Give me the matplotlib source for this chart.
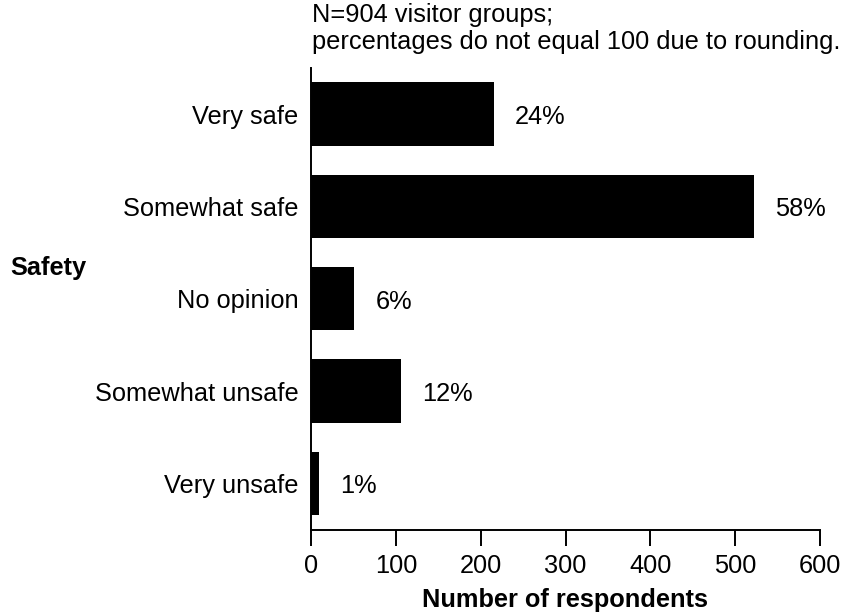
import matplotlib
matplotlib.use("Agg")
import matplotlib.pyplot as plt

categories = ["Very safe", "Somewhat safe", "No opinion", "Somewhat unsafe", "Very unsafe"]
counts = [216, 522, 51, 106, 9]
pct_labels = ["24%", "58%", "6%", "12%", "1%"]
x_ticks = [0, 100, 200, 300, 400, 500, 600]

plt.rcParams["font.family"] = ["Liberation Sans", "DejaVu Sans"]
FS = 18.3

fig = plt.figure(figsize=(8.42, 6.14), dpi=100)
ax = fig.add_axes([311 / 842, 1 - 529.5 / 614, (820 - 311) / 842, (529.5 - 68) / 614])

ypos = list(range(len(categories)))
ax.barh(ypos, counts, height=0.686, color="black")
ax.set_ylim(len(categories) - 0.5, -0.5)
ax.set_xlim(0, 600)

for y, c, lab in zip(ypos, counts, pct_labels):
    ax.annotate(lab, (c, y), xytext=(21, -3), textcoords="offset pixels",
                ha="left", va="center", fontsize=FS)

ax.set_yticks(ypos)
ax.set_yticklabels(categories, fontsize=FS)
ax.tick_params(axis="y", length=0, pad=9)
ax.set_xticks(x_ticks)
ax.set_xticklabels([str(t) for t in x_ticks], fontsize=FS)
ax.tick_params(axis="x", length=11.5, width=1.4, pad=6)

for s in ("top", "right"):
    ax.spines[s].set_visible(False)
for s in ("left", "bottom"):
    ax.spines[s].set_linewidth(1.4)

ax.set_xlabel("Number of respondents", fontsize=FS, fontweight="bold", labelpad=7)
fig.text(10 / 842, 1 - 268 / 614, "Safety", fontsize=FS, fontweight="bold", ha="left", va="center")
fig.text(312 / 842, 1 - 15 / 614, "N=904 visitor groups;", fontsize=FS, ha="left", va="center")
fig.text(312 / 842, 1 - 42 / 614, "percentages do not equal 100 due to rounding.", fontsize=FS,
         ha="left", va="center")

fig.savefig("out.png", dpi=100)
